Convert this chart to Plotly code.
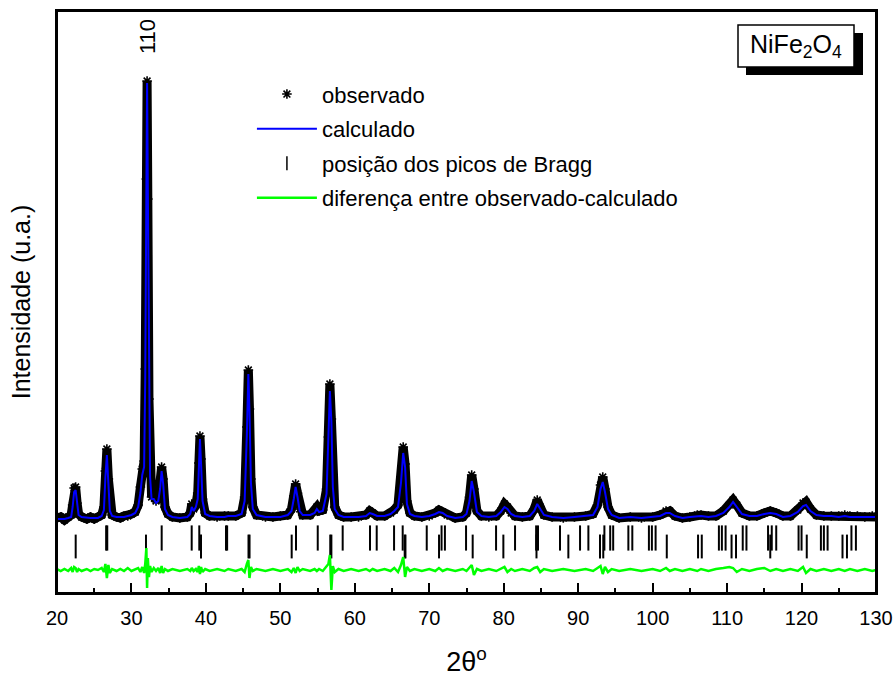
import plotly.graph_objects as go

# ---------------- data ----------------
two_theta = [20.0, 20.5, 21.0, 21.5, 21.9, 22.1, 22.3, 22.5, 22.7, 22.9, 23.3, 24.0, 24.5, 25.0, 25.5,
             26.0, 26.3, 26.5, 26.7, 26.9, 27.1, 27.4, 28.0, 28.5, 29.0, 29.5, 30.0, 30.5, 30.9,
             31.2, 31.45, 31.7, 31.85, 32.0, 32.1, 32.2, 32.35, 32.5, 32.7, 33.0, 33.3, 33.6, 33.85,
             34.05, 34.25, 34.5, 34.9, 35.5, 36.5, 37.5, 37.9, 38.1, 38.35, 38.65, 38.9, 39.05, 39.2,
             39.35, 39.55, 39.9, 40.5, 41.5, 42.5, 43.0, 44.0, 44.8, 45.2, 45.5, 45.7, 45.85, 46.05,
             46.3, 46.8, 48.0, 49.0, 50.0, 51.0, 51.5, 51.8, 52.05, 52.3, 52.6, 53.0, 54.0, 54.6,
             54.9, 55.2, 55.7, 56.2, 56.45, 56.65, 56.85, 57.05, 57.3, 57.8, 58.5, 59.5, 60.5, 61.5,
             62.0, 62.4, 63.0, 64.0, 64.8, 65.3, 65.8, 66.2, 66.5, 66.75, 67.0, 67.4, 68.0, 69.0,
             70.0, 70.8, 71.3, 71.8, 72.4, 73.5, 74.5, 75.0, 75.4, 75.7, 76.0, 76.4, 77.0, 78.0,
             79.0, 79.6, 80.1, 80.5, 81.0, 81.5, 82.5, 83.5, 84.1, 84.5, 84.9, 85.4, 86.5, 88.0,
             89.5, 91.0, 92.0, 92.6, 93.0, 93.3, 93.6, 94.0, 94.5, 95.5, 97.0, 98.5, 100.0, 101.0,
             101.8, 102.3, 103.0, 104.0, 105.0, 106.0, 106.5, 107.5, 108.5, 109.5, 110.3, 110.8,
             111.3, 112.0, 113.0, 114.0, 115.0, 115.8, 116.6, 117.5, 118.5, 119.5, 120.2, 120.6,
             121.2, 122.0, 123.0, 124.0, 125.0, 125.8, 126.5, 127.5, 128.5, 129.5, 130.0]

I_obs = [1, 2, -1, 2, 4, 14, 31, 32, 16, 5, 2, 0, 2, 0, 2,
         4, 12, 48, 70, 40, 10, 4, 2, 1, 3, 3, 5, 7, 14,
         32, 50, 58, 150, 340, 438, 320, 120, 45, 22, 24, 18, 21, 35,
         52, 40, 12, 5, 2, 1, 2, 6, 15, 10, 14, 26, 56, 83,
         60, 20, 6, 3, 2, 3, 3, 3, 6, 22, 92, 149, 110, 40,
         12, 4, 2, 2, 3, 4, 10, 23, 35, 26, 10, 4, 4, 8,
         12, 8, 9, 30, 82, 135, 100, 35, 12, 4, 2, 2, 2, 4,
         8, 6, 3, 3, 6, 9, 14, 42, 72, 55, 18, 6, 3, 2,
         3, 6, 9, 7, 4, 1, 2, 6, 22, 44, 30, 8, 3, 2,
         3, 8, 15, 12, 6, 3, 2, 3, 10, 19, 12, 4, 2, 1,
         2, 3, 5, 14, 34, 42, 30, 12, 4, 1, 2, 1, 2, 4,
         8, 8, 3, 1, 2, 4, 4, 3, 3, 8, 14, 19,
         14, 6, 3, 3, 6, 8, 6, 3, 3, 9, 16, 17,
         10, 4, 3, 3, 3, 4, 3, 3, 2, 3, 2]

I_calc = [0, 0, 0, 1, 2, 12, 27, 29, 14, 4, 2, 1, 1, 1, 1,
          3, 9, 42, 64, 36, 8, 3, 2, 2, 2, 3, 4, 6, 12,
          26, 44, 52, 140, 325, 436, 330, 126, 42, 20, 20, 16, 18, 30,
          48, 36, 10, 4, 2, 1, 2, 5, 12, 8, 12, 20, 50, 80,
          55, 18, 5, 3, 2, 2, 3, 3, 5, 18, 85, 145, 108, 36,
          10, 4, 2, 2, 2, 4, 8, 20, 32, 22, 8, 4, 4, 6,
          10, 7, 8, 25, 75, 128, 98, 32, 10, 4, 2, 2, 2, 3,
          6, 5, 3, 3, 5, 8, 12, 36, 66, 52, 15, 5, 3, 2,
          3, 5, 7, 6, 3, 1, 2, 5, 18, 38, 27, 7, 3, 2,
          3, 7, 12, 10, 5, 3, 2, 3, 8, 15, 10, 4, 2, 1,
          2, 3, 4, 12, 30, 37, 27, 10, 4, 1, 2, 1, 2, 3,
          6, 6, 3, 1, 2, 3, 3, 2, 3, 6, 12, 17,
          12, 5, 3, 3, 5, 6, 5, 2, 3, 7, 13, 14,
          8, 4, 3, 3, 2, 3, 2, 2, 2, 2, 2]

I_diff = [1, -1, 1, -1, 2, -2, 3, 2, -2, 1, -1, 1, -1, 1, 0,
          2, -2, 6, -8, 5, -3, 1, -1, 1, -1, 2, -1, 1, 2,
          -2, 3, -3, 6, 22, -18, 12, -7, 4, -2, 2, -1, 2, -3,
          4, -3, 1, -1, 1, -1, 1, -1, 2, -1, 1, -2, 4, -4,
          3, -2, 1, -1, 1, -1, 1, -1, 1, -2, 6, 10, -8, 3,
          -1, 1, -1, 1, -1, 1, -2, 2, -3, 3, -1, 1, -1, 1,
          -1, 1, -1, 3, 6, 15, -20, 4, -2, 1, -1, 1, -1, 1,
          -1, 1, -1, 1, -1, 2, -2, 5, 13, -7, 3, -1, 1, -1,
          1, -1, 2, -1, 1, -1, 1, -1, 3, 5, -5, 1, -1, 1,
          -1, 1, 3, -2, 1, -1, 1, -1, 2, 3, -2, 1, -1, 1,
          -1, 1, -1, 2, 4, -4, 3, -2, 1, -1, 1, -1, 1, -1,
          2, -1, 1, -1, 1, -1, 1, -1, 1, 2, 3, 2,
          -2, 1, -1, 1, 2, -1, 1, -1, 1, -1, 3, -3,
          1, -1, 1, -1, 1, -1, 1, -1, 1, -1, 0]

bragg_row1 = [26.6, 26.75, 34.06, 38.09, 39.11, 42.7, 42.85, 52.10, 55.02, 58.37, 62.04, 62.94,
              65.27, 66.43, 69.66, 71.65, 72.1, 74.94, 78.97, 81.52, 84.35, 84.6, 87.56, 90.25,
              91.37, 93.52, 94.3, 94.7, 96.74, 97.27, 99.5, 99.9, 100.4, 108.9, 109.3, 109.8,
              112.1, 112.6, 115.5, 116.0, 116.6, 119.6, 120.0, 122.6, 123.0, 123.5, 126.7, 127.3]
bragg_row2 = [22.51, 31.95, 39.34, 45.72, 45.86, 51.52, 56.7, 56.85, 66.7, 66.8, 71.31, 75.83,
              79.95, 84.4, 88.68, 92.93, 93.37, 101.9, 106.1, 106.6, 110.6, 111.2, 115.8, 120.7,
              125.5, 126.1]

x_ticks = [20, 30, 40, 50, 60, 70, 80, 90, 100, 110, 120, 130]
x_minor = [25, 35, 45, 55, 65, 75, 85, 95, 105, 115, 125]

legend_labels = ["observado", "calculado", "posição dos picos de Bragg",
                 "diferença entre observado-calculado"]

# vertical placement of the lower panels (a.u.)
row1_level = -19
row2_level = -27.5
diff_offset = -51

FONT = "Liberation Sans, Arial, sans-serif"

fig = go.Figure()

# observed: dense data drawn as a black band + asterisk markers
fig.add_trace(go.Scatter(x=two_theta, y=I_obs, mode="lines",
                         line=dict(color="black", width=9), showlegend=False,
                         hoverinfo="skip"))
fig.add_trace(go.Scatter(x=two_theta, y=I_obs, mode="markers",
                         marker=dict(symbol="asterisk-open", size=8, color="black",
                                     line=dict(color="black", width=1.6)),
                         name=legend_labels[0], legendgroup="a", legendrank=1))
fig.add_trace(go.Scatter(x=two_theta, y=I_calc, mode="lines",
                         line=dict(color="#0000FF", width=2),
                         name=legend_labels[1], legendgroup="b", legendrank=2))
fig.add_trace(go.Scatter(x=bragg_row1, y=[row1_level] * len(bragg_row1), mode="markers",
                         marker=dict(symbol="line-ns-open", size=18, color="black",
                                     line=dict(color="black", width=2)),
                         showlegend=False, legendgroup="c"))
fig.add_trace(go.Scatter(x=bragg_row2, y=[row2_level] * len(bragg_row2), mode="markers",
                         marker=dict(symbol="line-ns-open", size=17, color="black",
                                     line=dict(color="black", width=2)),
                         showlegend=False, legendgroup="c"))
# legend entry for the Bragg ticks (small symbol as in the reference legend)
fig.add_trace(go.Scatter(x=[None], y=[None], mode="markers",
                         marker=dict(symbol="line-ns-open", size=10, color="black",
                                     line=dict(color="black", width=1.5)),
                         name=legend_labels[2], legendgroup="c", legendrank=3))
fig.add_trace(go.Scatter(x=two_theta, y=[diff_offset + d for d in I_diff], mode="lines",
                         line=dict(color="#00FF00", width=2.5),
                         name=legend_labels[3], legendgroup="d", legendrank=4))

fig.update_layout(
    width=893, height=677,
    margin=dict(l=57, r=17, t=11, b=84, autoexpand=False),
    paper_bgcolor="white", plot_bgcolor="white",
    font=dict(family=FONT, color="black"),
    showlegend=True,
    legend=dict(x=0.238, y=0.893, xanchor="left", yanchor="top",
                bgcolor="rgba(0,0,0,0)", font=dict(size=22, family=FONT),
                traceorder="grouped", tracegroupgap=3, itemwidth=60),
    xaxis=dict(range=[20, 130], tickvals=x_ticks, automargin=False,
               ticks="inside", ticklen=10, tickwidth=2, tickcolor="black",
               minor=dict(ticks="inside", ticklen=5, tickwidth=2, tickcolor="black",
                          tickvals=x_minor),
               showline=True, linecolor="black", linewidth=2, mirror=True,
               showgrid=False, zeroline=False, ticklabelstandoff=6,
               tickfont=dict(size=20, family=FONT),
               title=dict(text="2θ<sup>o</sup>", font=dict(size=27, family=FONT), standoff=26)),
    yaxis=dict(range=[-74, 508], showticklabels=False, ticks="", automargin=False,
               showline=True, linecolor="black", linewidth=2, mirror=True,
               showgrid=False, zeroline=False,
               title=dict(text="Intensidade (u.a.)", font=dict(size=25, family=FONT),
                          standoff=17)),
)

# full frame around the plot area
fig.add_shape(type="rect", xref="paper", yref="paper", x0=0, x1=1, y0=0, y1=1,
              line=dict(color="black", width=2), layer="above")

# "110" label above the main reflection
fig.add_annotation(x=32.1, y=438, yshift=44, text="110", textangle=-90,
                   showarrow=False, font=dict(size=22, family=FONT))

# NiFe2O4 box with drop shadow
fig.add_shape(type="rect", xref="paper", yref="paper",
              x0=(746 - 57) / 819, x1=(863 - 57) / 819,
              y0=(593 - 75) / 582, y1=(593 - 33) / 582,
              fillcolor="black", line=dict(width=0))
fig.add_shape(type="rect", xref="paper", yref="paper",
              x0=(738 - 57) / 819, x1=(854 - 57) / 819,
              y0=(593 - 67) / 582, y1=(593 - 25) / 582,
              fillcolor="white", line=dict(color="black", width=1.5))
fig.add_annotation(xref="paper", yref="paper", x=(796 - 57) / 819, y=(593 - 46) / 582,
                   xanchor="center", yanchor="middle",
                   text="NiFe<sub>2</sub>O<sub>4</sub>", showarrow=False,
                   font=dict(size=25, family=FONT))

fig.write_html("out.html")
